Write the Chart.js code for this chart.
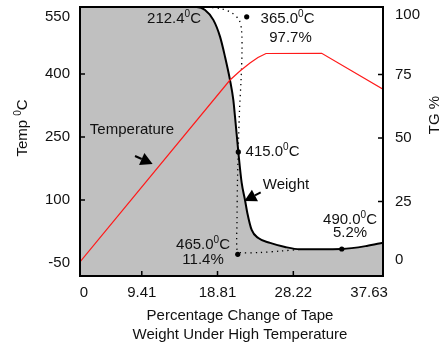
<!DOCTYPE html>
<html>
<head>
<meta charset="utf-8">
<script src="https://cdn.jsdelivr.net/npm/chart.js@4.4.0/dist/chart.umd.min.js"></script>
<style>
  html, body { margin: 0; padding: 0; background: #fff; }
</style>
</head>
<body>
<canvas id="tgChart" width="445" height="346"></canvas>
<script>
  "use strict";

  // tick labels
  var X_TICKS = [0, 9.41, 18.81, 28.22, 37.63];
  var TEMP_TICKS = [-50, 100, 250, 400, 550];
  var TG_TICKS = [0, 25, 50, 75, 100];

  // weight (TG %) curve
  var weightX = [1.74, 16.23, 17.26, 18.29, 19.12, 19.74, 20.36, 20.77, 20.98, 21.39, 21.81, 22.22, 22.51, 23.05, 23.87, 25.33, 27.19, 29.05, 31.53, 34.23, 37.33, 39.35];
  var weightTG = [101.6, 101.6, 100.4, 96.5, 89.9, 82.0, 72.8, 65.0, 58.4, 44.6, 32.3, 25.6, 20.5, 13.8, 10.6, 8.7, 7.1, 6.2, 6.2, 6.3, 7.5, 8.8];

  // temperature curve (deg C)
  var tempX = [1.74, 20.36, 21.6, 22.84, 23.83, 24.83, 31.74, 39.35];
  var tempC = [-47.6, 385.7, 407.1, 426.2, 439.3, 448.8, 449.3, 364];

  // dotted guide line
  var guideX = [17.5, 19.37, 20.61, 21.48, 21.79, 21.85, 21.73, 21.54, 21.42, 21.29, 21.23, 21.23, 21.6, 24.08, 26.57, 29.05];
  var guideTG = [101.6, 100.8, 99.2, 96.5, 92.5, 84.6, 72.8, 61.0, 49.2, 33.5, 17.7, 5.9, 4.9, 4.9, 5.5, 6.1];

  // marked points
  var markX = [22.43, 21.39, 21.32, 34.23];
  var markTG = [97.7, 44.5, 4.2, 6.3];

  var FONT = "'Liberation Sans', Arial, sans-serif";
  var INK = "#111";

  // notes, placed in data units (x, TG %)
  var notes = [
    { text: "212.4^0C", x: 13.41, y: 96.85 },
    { text: "365.0^0C", x: 27.5, y: 96.85 },
    { text: "97.7%", x: 27.87, y: 89.37 },
    { text: "415.0^0C", x: 25.64, y: 44.6 },
    { text: "Weight", x: 27.31, y: 31.5 },
    { text: "Temperature", x: 8.19, y: 53.15 },
    { text: "490.0^0C", x: 35.26, y: 17.7 },
    { text: "5.2%", x: 35.26, y: 12.5 },
    { text: "465.0^0C", x: 17.01, y: 7.87 },
    { text: "11.4%", x: 17.01, y: 1.97 }
  ];
  var arrows = [
    { from: [8.57, 42.9], to: [10.76, 39.8] },
    { from: [24.17, 28.6], to: [22.14, 25.2] }
  ];

  function pts(xs, ys) {
    return xs.map(function (x, i) { return { x: x, y: ys[i] }; });
  }

  // text with ^ marking a one-character superscript
  function drawRich(ctx, str, cx, cy, size) {
    var segs = [];
    str.split("^").forEach(function (p, i) {
      if (i === 0) { segs.push([p, false]); return; }
      segs.push([p.charAt(0), true]);
      segs.push([p.slice(1), false]);
    });
    var big = size + "px " + FONT, small = Math.round(size * 0.66) + "px " + FONT;
    var w = 0;
    segs.forEach(function (s) {
      ctx.font = s[1] ? small : big;
      s.push(ctx.measureText(s[0]).width);
      w += s[2];
    });
    var x = cx - w / 2;
    ctx.textAlign = "left";
    ctx.textBaseline = "middle";
    segs.forEach(function (s) {
      ctx.font = s[1] ? small : big;
      ctx.fillText(s[0], x, s[1] ? cy - size * 0.3 : cy);
      x += s[2];
    });
  }

  function drawArrow(ctx, x1, y1, x2, y2) {
    var ang = Math.atan2(y2 - y1, x2 - x1), hl = 12, hw = 6.5;
    var bx = x2 - Math.cos(ang) * hl, by = y2 - Math.sin(ang) * hl;
    ctx.lineWidth = 2;
    ctx.beginPath();
    ctx.moveTo(x1, y1);
    ctx.lineTo(bx, by);
    ctx.stroke();
    ctx.beginPath();
    ctx.moveTo(x2, y2);
    ctx.lineTo(bx - Math.sin(ang) * hw, by + Math.cos(ang) * hw);
    ctx.lineTo(bx + Math.sin(ang) * hw, by - Math.cos(ang) * hw);
    ctx.closePath();
    ctx.fill();
  }

  var frame = {
    id: "frame",
    afterDatasetsDraw: function (chart) {
      var ctx = chart.ctx, a = chart.chartArea;
      var sx = chart.scales.x, sl = chart.scales.y, sr = chart.scales.y1;
      ctx.save();
      ctx.strokeStyle = "#000";
      ctx.fillStyle = "#000";

      // inward tick marks
      ctx.lineWidth = 1.5;
      ctx.beginPath();
      X_TICKS.slice(1, -1).forEach(function (v) {
        var p = sx.getPixelForValue(v);
        ctx.moveTo(p, a.bottom); ctx.lineTo(p, a.bottom - 5);
      });
      TEMP_TICKS.slice(1, -1).forEach(function (v) {
        var p = sl.getPixelForValue(v);
        ctx.moveTo(a.left, p); ctx.lineTo(a.left + 5, p);
      });
      TG_TICKS.slice(1, -1).forEach(function (v) {
        var p = sr.getPixelForValue(v);
        ctx.moveTo(a.right, p); ctx.lineTo(a.right - 5, p);
      });
      ctx.stroke();

      ctx.lineWidth = 2;
      ctx.strokeRect(a.left, a.top, a.right - a.left, a.bottom - a.top);

      // notes and arrows
      ctx.fillStyle = INK;
      notes.forEach(function (n) {
        drawRich(ctx, n.text, sx.getPixelForValue(n.x), sr.getPixelForValue(n.y), 15);
      });
      ctx.fillStyle = "#000";
      arrows.forEach(function (r) {
        drawArrow(ctx, sx.getPixelForValue(r.from[0]), sr.getPixelForValue(r.from[1]),
          sx.getPixelForValue(r.to[0]), sr.getPixelForValue(r.to[1]));
      });

      // axis titles
      ctx.fillStyle = INK;
      ctx.save();
      ctx.translate(a.left - 57, a.top + 121);
      ctx.rotate(-Math.PI / 2);
      drawRich(ctx, "Temp ^0C", 0, 0, 15);
      ctx.restore();
      ctx.save();
      ctx.translate(a.right + 52, a.top + 108);
      ctx.rotate(-Math.PI / 2);
      drawRich(ctx, "TG %", 0, 0, 15);
      ctx.restore();
      drawRich(ctx, "Percentage Change of Tape", a.left + 160, a.bottom + 40, 15);
      drawRich(ctx, "Weight Under High Temperature", a.left + 160, a.bottom + 59, 15);
      ctx.restore();
    }
  };

  function pinTicks(list, lo, hi) {
    return function (s) {
      s.ticks = list.map(function (v) { return { value: Math.min(Math.max(v, lo), hi) }; });
    };
  }

  var ctx = document.getElementById("tgChart");
  var chart = new Chart(ctx, {
    type: "line",
    data: {
      datasets: [
        {
          label: "Markers",
          data: pts(markX, markTG),
          yAxisID: "y1",
          showLine: false,
          pointRadius: 2.6,
          pointBackgroundColor: "#000",
          pointBorderWidth: 0,
          order: 0
        },
        {
          label: "Temperature",
          data: pts(tempX, tempC),
          yAxisID: "y",
          borderColor: "#ff1a1a",
          borderWidth: 1.2,
          pointRadius: 0,
          tension: 0,
          fill: false,
          clip: 0,
          order: 1
        },
        {
          label: "Guide",
          data: pts(guideX, guideTG),
          yAxisID: "y1",
          borderColor: "#000",
          borderWidth: 1.3,
          borderDash: [1.3, 4],
          pointRadius: 0,
          tension: 0.3,
          fill: false,
          clip: 0,
          order: 2
        },
        {
          label: "Weight",
          data: pts(weightX, weightTG),
          yAxisID: "y1",
          borderColor: "#000",
          borderWidth: 2,
          backgroundColor: "#c0c0c0",
          pointRadius: 0,
          cubicInterpolationMode: "monotone",
          fill: "start",
          clip: 0,
          order: 3
        }
      ]
    },
    options: {
      responsive: false,
      animation: false,
      layout: { padding: { top: 7, left: 0, right: 0, bottom: 0 } },
      plugins: {
        legend: { display: false },
        tooltip: { enabled: false }
      },
      scales: {
        x: {
          type: "linear",
          min: 1.74,
          max: 39.35,
          grid: { display: false, drawTicks: false },
          border: { display: false },
          afterBuildTicks: pinTicks(X_TICKS, 2.24, 39.35),
          afterFit: function (s) { s.height = 70; s.paddingLeft = 0; s.paddingRight = 0; },
          ticks: {
            autoSkip: false,
            maxRotation: 0,
            padding: 8,
            color: INK,
            font: { family: FONT, size: 15 },
            callback: function (v, i) { return String(X_TICKS[i]); }
          }
        },
        y: {
          position: "left",
          min: -80.95,
          max: 559.5,
          grid: { display: false, drawTicks: false },
          border: { display: false },
          afterBuildTicks: pinTicks(TEMP_TICKS, -54.8, 535.7),
          afterFit: function (s) { s.width = 80; s.paddingTop = 0; s.paddingBottom = 0; },
          ticks: {
            autoSkip: false,
            padding: 10,
            color: INK,
            font: { family: FONT, size: 15 },
            callback: function (v, i) { return String(TEMP_TICKS[i]); }
          }
        },
        y1: {
          position: "right",
          min: -4.33,
          max: 101.57,
          grid: { display: false, drawTicks: false },
          border: { display: false },
          afterBuildTicks: pinTicks(TG_TICKS, 2.0, 98.4),
          afterFit: function (s) { s.width = 62; s.paddingTop = 0; s.paddingBottom = 0; },
          ticks: {
            autoSkip: false,
            padding: 12,
            color: INK,
            font: { family: FONT, size: 15 },
            callback: function (v, i) { return String(TG_TICKS[i]); }
          }
        }
      }
    },
    plugins: [frame]
  });
</script>
</body>
</html>
